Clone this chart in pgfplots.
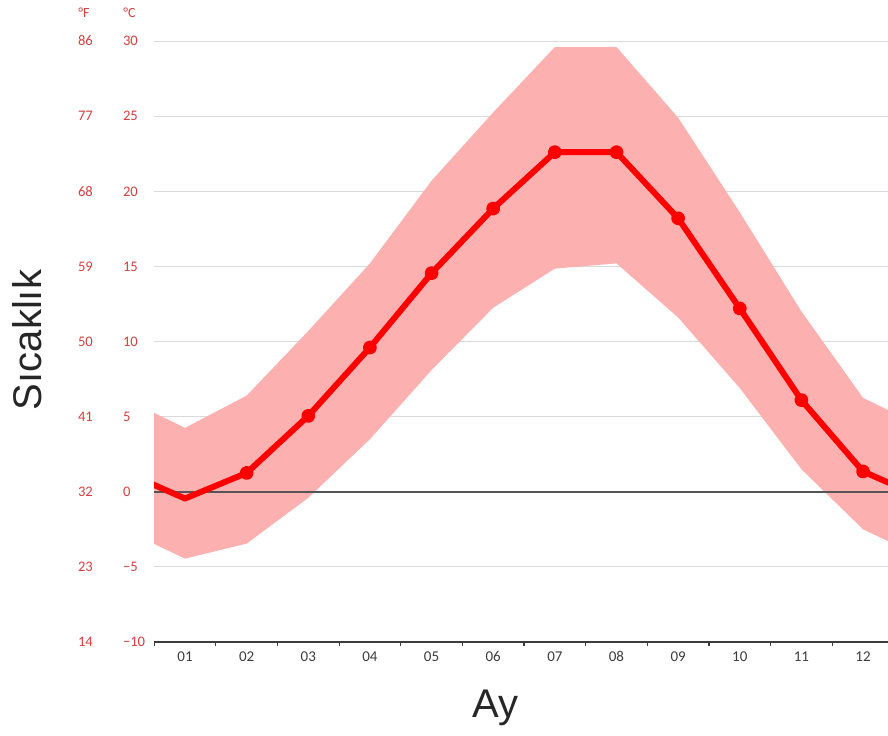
\documentclass[border=0pt]{standalone}
\usepackage{fontspec}
\setmainfont{Liberation Sans}
\newfontfamily\tickfont{Carlito}
\usepackage{pgfplots}
\usepackage{pgfplotstable}
\pgfplotsset{compat=1.18}
\usepgfplotslibrary{fillbetween}
\definecolor{bandc}{RGB}{253,176,176}
\definecolor{ylab}{RGB}{214,64,64}
\definecolor{xlab}{RGB}{60,60,60}
\definecolor{gridc}{RGB}{218,218,218}
\definecolor{zeroc}{RGB}{85,85,85}
\definecolor{linec}{RGB}{255,0,0}
\pgfplotstableread{
x mid up lo
0 1.35 6.25 -2.5
1 -0.45 4.25 -4.45
2 1.25 6.4 -3.45
3 5.05 10.7 -0.4
4 9.6 15.2 3.5
5 14.55 20.7 8.1
6 18.85 25.25 12.25
7 22.6 29.6 14.85
8 22.6 29.6 15.2
9 18.2 24.9 11.6
10 12.2 18.6 6.9
11 6.1 12.0 1.5
12 1.35 6.25 -2.5
13 -0.45 4.25 -4.45
}\tempdata
\begin{document}
\begin{tikzpicture}
\begin{axis}[
  at={(77.1pt,46.5pt)}, anchor=south west,
  scale only axis, width=366.9pt, height=300.5pt,
  xmin=0.5, xmax=12.405, ymin=-10, ymax=30,
  axis x line*=bottom, axis y line*=left,
  x axis line style={-, draw=xlab, line width=0.7pt},
  y axis line style={draw=none},
  xtick={1,...,12},
  xticklabels={01,02,03,04,05,06,07,08,09,10,11,12},
  major x tick style={draw=none},
  minor xtick={0.5,1.5,...,11.5},
  minor x tick style={draw=xlab, line width=0.6pt},
  minor tick length=1.8pt,
  tick align=outside,
  xticklabel style={font=\tickfont\fontsize{7.5pt}{9pt}\selectfont, text=xlab, yshift=3pt},
  ytick={-10,-5,...,30},
  yticklabels={\makebox[22.5pt][l]{14}−10,\makebox[22.5pt][l]{23}−5,\makebox[22.5pt][l]{32}0,\makebox[22.5pt][l]{41}5,\makebox[22.5pt][l]{50}10,\makebox[22.5pt][l]{59}15,\makebox[22.5pt][l]{68}20,\makebox[22.5pt][l]{77}25,\makebox[22.5pt][l]{86}30},
  ytick style={draw=none},
  yticklabel style={anchor=west, inner sep=0pt, xshift=-34pt, font=\tickfont\fontsize{7.3pt}{8pt}\selectfont, text=ylab},
  ymajorgrids,
  major grid style={draw=gridc, line width=0.5pt},
  xlabel={Ay},
  xlabel style={at={(axis description cs:0.465,0)}, anchor=center, yshift=-33pt, font=\fontsize{20pt}{24pt}\selectfont, text=black!85},
  ylabel={Sıcaklık},
  ylabel style={at={(axis description cs:-0.1731,0.5025)}, anchor=center, font=\fontsize{20pt}{24pt}\selectfont, text=black!85},
]
\addplot[name path=up, draw=none, forget plot] table[x=x,y=up]{\tempdata};
\addplot[name path=lo, draw=none, forget plot] table[x=x,y=lo]{\tempdata};
\addplot[bandc, draw=none] fill between[of=up and lo];
\addplot[zeroc, line width=0.8pt] coordinates {(0,0) (13,0)};
\addplot[linec, line width=3pt, line join=round, mark=*, mark size=2pt, mark indices={2,...,13}] table[x=x,y=mid]{\tempdata};
\end{axis}
\node[anchor=west, text=ylab, font=\tickfont\fontsize{7pt}{8pt}\selectfont, inner sep=0pt] at (39pt,361pt) {°F};
\node[anchor=west, text=ylab, font=\tickfont\fontsize{7pt}{8pt}\selectfont, inner sep=0pt] at (61.5pt,361pt) {°C};
\pgfresetboundingbox
\path[use as bounding box] (0,0) rectangle (444pt,367.5pt);
\end{tikzpicture}
\end{document}
